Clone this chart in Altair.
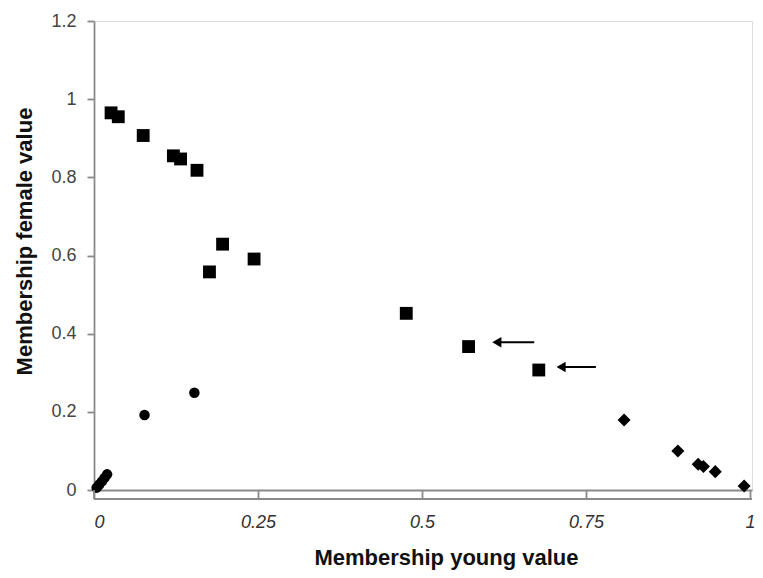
import altair as alt
import pandas as pd

# --- data ---
sq_x = [0.026, 0.037, 0.075, 0.121, 0.132, 0.157, 0.176, 0.196, 0.244, 0.476, 0.571, 0.678]
sq_y = [0.965, 0.955, 0.907, 0.855, 0.847, 0.818, 0.558, 0.629, 0.591, 0.452, 0.367, 0.307]

ci_x = [0.004, 0.008, 0.012, 0.016, 0.020, 0.077, 0.153]
ci_y = [0.006, 0.014, 0.022, 0.031, 0.040, 0.192, 0.249]

di_x = [0.808, 0.890, 0.921, 0.929, 0.947, 0.991]
di_y = [0.179, 0.100, 0.066, 0.060, 0.047, 0.010]

# arrows (annotation): head position, tail position, height
arr_head = [0.614, 0.712]
arr_tail = [0.671, 0.765]
arr_y = [0.378, 0.315]

x_ticks = [0, 0.25, 0.5, 0.75, 1]
y_ticks = [0, 0.2, 0.4, 0.6, 0.8, 1, 1.2]

W, H = 658, 469
AX = "#8a8a8a"
FONT = "Liberation Sans"

sq = pd.DataFrame({"x": sq_x, "y": sq_y})
ci = pd.DataFrame({"x": ci_x, "y": ci_y})
di = pd.DataFrame({"x": di_x, "y": di_y})
ar = pd.DataFrame({"h": arr_head, "t": arr_tail, "y": arr_y})

xs = alt.Scale(domain=[0, 1.003], nice=False, zero=True)
ys = alt.Scale(domain=[0, 1.2], nice=False)

X = alt.X("x:Q", scale=xs, axis=alt.Axis(
    values=x_ticks, format="~g", grid=False, domainColor=AX, domainWidth=1.8,
    tickColor=AX, tickWidth=1.8, tickSize=9, labelFont=FONT, labelFontSize=18,
    labelFontStyle="italic", labelColor="#333", labelPadding=14,
    title="Membership young value", titleFont=FONT, titleFontSize=22,
    titleFontWeight="bold", titleColor="#111", titlePadding=16,
    titleX=352, titleAlign="center"))
Y = alt.Y("y:Q", scale=ys, axis=alt.Axis(
    values=y_ticks, format="~g", grid=False, domainColor=AX, domainWidth=1.8,
    tickColor=AX, tickWidth=1.8, tickSize=7, labelFont=FONT, labelFontSize=18,
    labelColor="#444", labelPadding=11,
    title="Membership female value", titleFont=FONT, titleFontSize=22,
    titleFontWeight="bold", titleColor="#111", titlePadding=14,
    titleY=220, titleAlign="center"))

squares = alt.Chart(sq).mark_square(size=165, color="black", opacity=1).encode(x=X, y=Y)
circles = alt.Chart(ci).mark_circle(size=110, color="black", opacity=1).encode(x="x:Q", y="y:Q")
diamonds = alt.Chart(di).mark_point(shape="diamond", filled=True, size=170,
                                    color="black", opacity=1).encode(x="x:Q", y="y:Q")
shafts = alt.Chart(ar).mark_rule(color="black", strokeWidth=2).encode(
    x="h:Q", x2="t:Q", y="y:Q")
heads = alt.Chart(ar).mark_point(shape="triangle-left", filled=True, size=110,
                                 color="black", opacity=1).encode(x="h:Q", y="y:Q")

# lower baseline of the boxed x axis
base = alt.Chart(pd.DataFrame({"x": [0]})).mark_rule(color=AX, strokeWidth=1.8).encode(
    x=alt.value(0), x2=alt.value(W), y=alt.value(H + 9))
vbase = alt.Chart(pd.DataFrame({"x": [0]})).mark_rule(color=AX, strokeWidth=1.8).encode(
    x=alt.value(0), y=alt.value(H), y2=alt.value(H + 9))

chart = alt.layer(squares, circles, diamonds, shafts, heads, base, vbase).properties(
    width=W, height=H,
    autosize=alt.AutoSizeParams(type="none"),
    padding={"left": 86, "top": 13, "right": 3, "bottom": 80},
).configure_view(stroke=None).configure(background="white")

chart.save("out.html", embed_options={"renderer": "svg", "actions": False})
